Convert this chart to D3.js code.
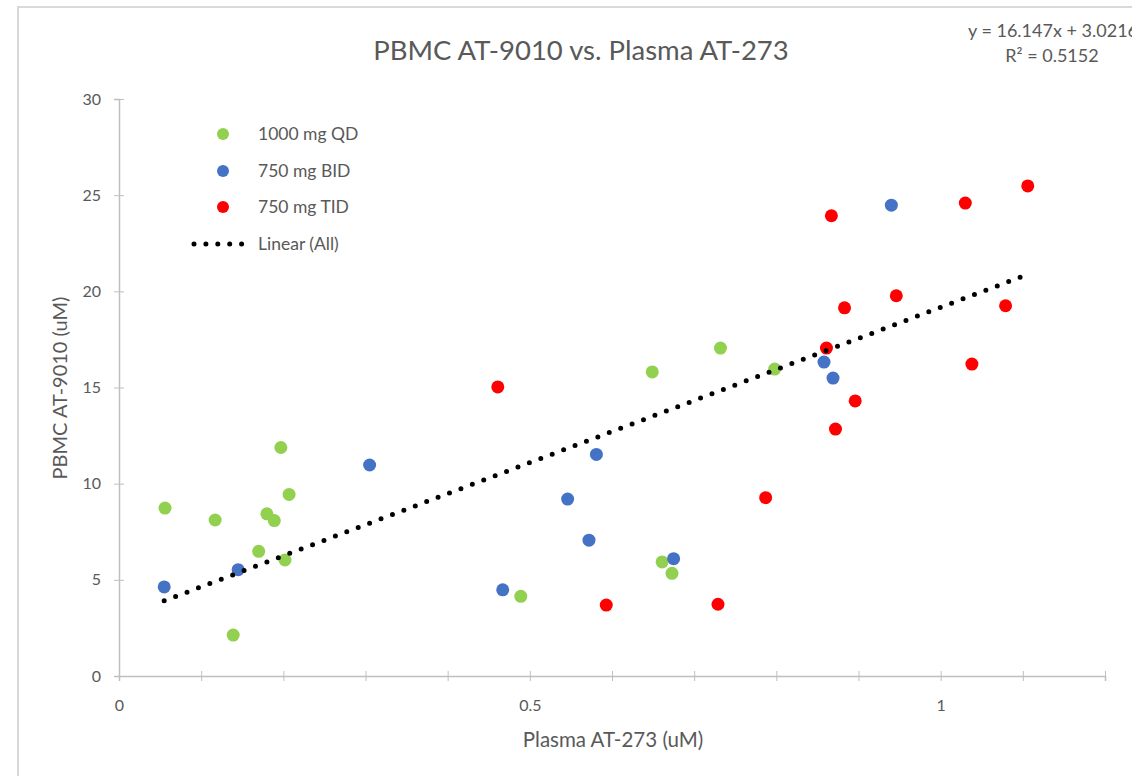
<!DOCTYPE html>
<html>
<head>
<meta charset="utf-8">
<script src="https://cdn.jsdelivr.net/npm/d3@7"></script>
<style>
  body { margin: 0; background: #fff; }
  text { font-family: Lato, "Open Sans", sans-serif; fill: #595959; }
</style>
</head>
<body>
<svg id="canvas"></svg>
<script>
// series: [plasma AT-273, PBMC AT-9010]
const qd1000 = [
  [0.056, 8.73], [0.117, 8.11], [0.139, 2.13], [0.170, 6.48], [0.180, 8.43],
  [0.189, 8.08], [0.197, 11.88], [0.202, 6.03], [0.207, 9.44], [0.489, 4.14],
  [0.649, 15.81], [0.661, 5.93], [0.673, 5.34], [0.732, 17.05], [0.798, 15.96]
];
const bid750 = [
  [0.055, 4.63], [0.145, 5.53], [0.305, 10.97], [0.467, 4.48], [0.546, 9.20],
  [0.572, 7.06], [0.581, 11.52], [0.675, 6.10], [0.858, 16.32], [0.869, 15.49],
  [0.940, 24.48]
];
const tid750 = [
  [0.461, 15.03], [0.593, 3.69], [0.729, 3.73], [0.787, 9.27], [0.861, 17.05],
  [0.867, 23.93], [0.872, 12.84], [0.883, 19.14], [0.896, 14.30], [0.946, 19.77],
  [1.030, 24.59], [1.038, 16.22], [1.079, 19.25], [1.106, 25.48]
];

const seriesNames = ['1000 mg QD', '750 mg BID', '750 mg TID'];
const seriesColors = ['#92D050', '#4472C4', '#FF0000'];
const trendName = 'Linear (All)';
const slope = 16.147;
const intercept = 3.0216;
const equationText = 'y = 16.147x + 3.0216';
const r2Text = 'R² = 0.5152';

const xTicks = d3.range(0, 1.2001, 0.1);
const xTickLabels = { 0: '0', 0.5: '0.5', 1: '1' };
const yTicks = [0, 5, 10, 15, 20, 25, 30];

const width = 1132;
const height = 776;
const plot = { left: 119, right: 1105, top: 99, bottom: 676 };

const canvas = d3.select('#canvas')
  .attr('width', width)
  .attr('height', height);

// chart frame
canvas.append('rect')
  .attr('x', 18).attr('y', 7)
  .attr('width', 1200).attr('height', 900)
  .attr('fill', 'none')
  .attr('stroke', '#D9D9D9')
  .attr('stroke-width', 2);

const x = d3.scaleLinear().domain([0, 1.2]).range([plot.left, plot.right]);
const y = d3.scaleLinear().domain([0, 30]).range([plot.bottom, plot.top]);

// y axis
const yAxis = canvas.append('g')
  .attr('transform', `translate(${plot.left},0)`)
  .call(d3.axisLeft(y).tickValues(yTicks).tickSize(5).tickPadding(13));
yAxis.selectAll('.tick line').attr('x1', 5).attr('stroke', '#BFBFBF');
yAxis.select('.domain').attr('stroke', '#BFBFBF').attr('stroke-width', 1.5);
yAxis.selectAll('.tick text').style('font-size', '16px').attr('fill', '#595959');

// x axis
const xAxis = canvas.append('g')
  .attr('transform', `translate(0,${plot.bottom})`)
  .call(d3.axisBottom(x).tickValues(xTicks).tickSize(5).tickPadding(19)
    .tickFormat(d => {
      const k = Math.round(d * 10) / 10;
      return xTickLabels[k] !== undefined ? xTickLabels[k] : '';
    }));
xAxis.selectAll('.tick line').attr('y1', -5).attr('stroke', '#BFBFBF');
xAxis.select('.domain').attr('stroke', '#BFBFBF').attr('stroke-width', 1.5);
xAxis.selectAll('.tick text').style('font-size', '16px').attr('fill', '#595959');

// markers
const allSeries = [qd1000, bid750, tid750];
allSeries.forEach((data, i) => {
  canvas.append('g')
    .selectAll('circle')
    .data(data)
    .enter()
    .append('circle')
    .attr('cx', d => x(d[0]))
    .attr('cy', d => y(d[1]))
    .attr('r', 6.5)
    .attr('fill', seriesColors[i]);
});

// linear trendline over all points
const allPoints = allSeries.flat();
const xMin = d3.min(allPoints, d => d[0]);
const xMax = d3.max(allPoints, d => d[0]);
canvas.append('line')
  .attr('x1', x(xMin)).attr('y1', y(slope * xMin + intercept))
  .attr('x2', x(xMax)).attr('y2', y(slope * xMax + intercept))
  .attr('stroke', '#000')
  .attr('stroke-width', 5)
  .attr('stroke-linecap', 'round')
  .attr('stroke-dasharray', '0 12.2');

// title
canvas.append('text')
  .attr('x', 581).attr('y', 60)
  .attr('text-anchor', 'middle')
  .style('font-size', '27.5px')
  .text('PBMC AT-9010 vs. Plasma AT-273');

// axis titles
canvas.append('text')
  .attr('x', 613).attr('y', 747)
  .attr('text-anchor', 'middle')
  .style('font-size', '20.5px')
  .text('Plasma AT-273 (uM)');

canvas.append('text')
  .attr('transform', 'translate(67,388) rotate(-90)')
  .attr('text-anchor', 'middle')
  .style('font-size', '20px')
  .text('PBMC AT-9010 (uM)');

// equation label
canvas.append('text')
  .attr('x', 968).attr('y', 37)
  .style('font-size', '18px')
  .text(equationText);
canvas.append('text')
  .attr('x', 1052).attr('y', 62)
  .attr('text-anchor', 'middle')
  .style('font-size', '18px')
  .text(r2Text);

// legend
const legend = canvas.append('g');
const legendY = [134, 171, 207];
seriesNames.forEach((name, i) => {
  legend.append('circle')
    .attr('cx', 223).attr('cy', legendY[i])
    .attr('r', 6)
    .attr('fill', seriesColors[i]);
  legend.append('text')
    .attr('x', 258).attr('y', legendY[i] + 6)
    .style('font-size', '17.5px')
    .text(name);
});
legend.append('line')
  .attr('x1', 194).attr('y1', 244)
  .attr('x2', 242).attr('y2', 244)
  .attr('stroke', '#000')
  .attr('stroke-width', 5)
  .attr('stroke-linecap', 'round')
  .attr('stroke-dasharray', '0 11.9');
legend.append('text')
  .attr('x', 258).attr('y', 250)
  .style('font-size', '17.5px')
  .text(trendName);
</script>
</body>
</html>
